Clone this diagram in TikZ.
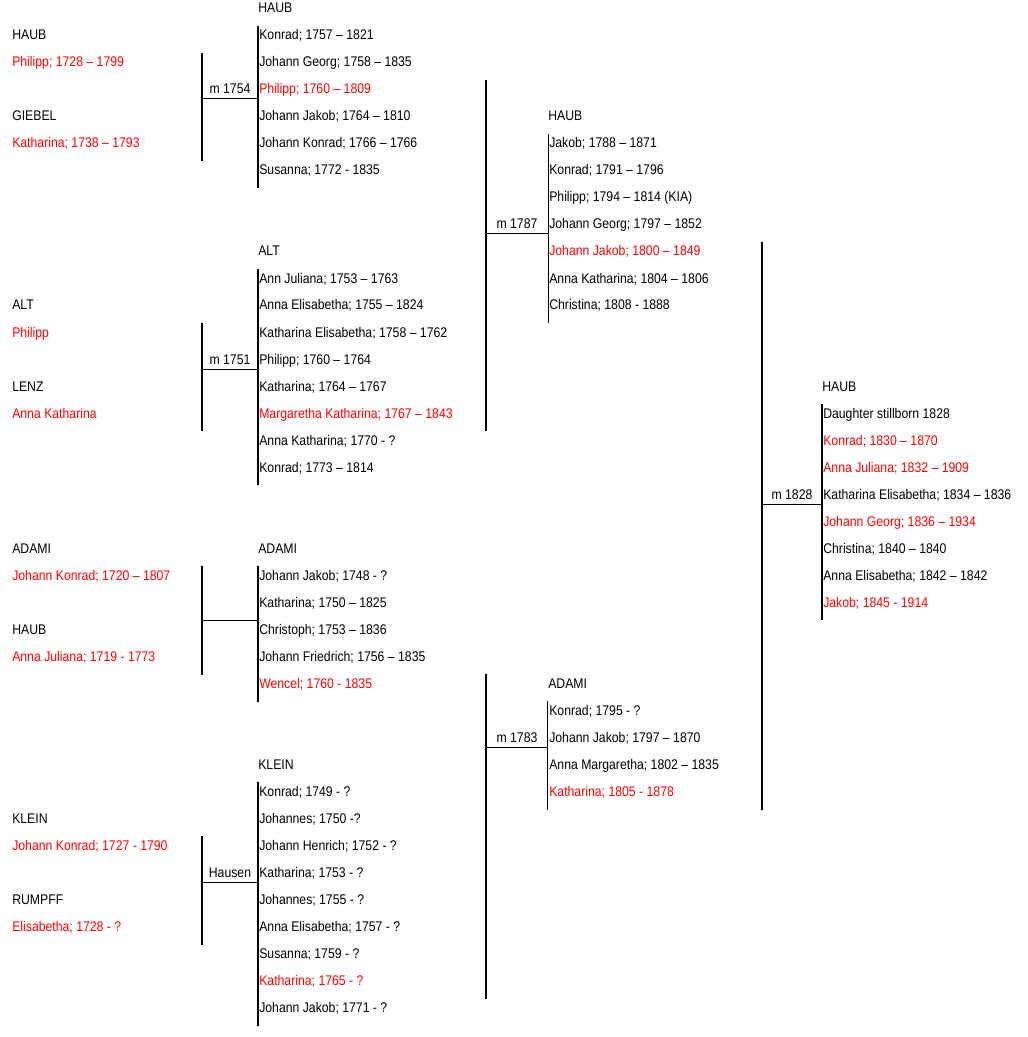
\documentclass[tikz,border=0pt]{standalone}
\usepackage{fontspec}
\setmainfont[FakeStretch=0.875]{Liberation Sans}
\tikzset{
  person/.style={anchor=base west, inner sep=0pt, font=\fontsize{10.5pt}{12pt}\selectfont},
  kin/.style={person, text=red},
  wedding/.style={anchor=base, inner sep=0pt, font=\fontsize{10.5pt}{12pt}\selectfont},
  bar/.style={line width=1.5pt},
  thinbar/.style={line width=0.75pt},
  link/.style={line width=0.75pt}
}
\begin{document}
\begin{tikzpicture}[x=0.75pt, y=-0.75pt]
  \useasboundingbox (0,0) rectangle (1027,1037);
  % grandparents
  \node[person] (g1) at (12,40) {HAUB};
  \node[kin] (g2) at (12,67) {Philipp; 1728 – 1799};
  \node[person] (g3) at (12,121) {GIEBEL};
  \node[kin] (g4) at (12,148) {Katharina; 1738 – 1793};
  \node[person] (g5) at (12,310) {ALT};
  \node[kin] (g6) at (12,337) {Philipp};
  \node[person] (g7) at (12,391) {LENZ};
  \node[kin] (g8) at (12,418) {Anna Katharina};
  \node[person] (g9) at (12,553) {ADAMI};
  \node[kin] (g10) at (12,580) {Johann Konrad; 1720 – 1807};
  \node[person] (g11) at (12,634) {HAUB};
  \node[kin] (g12) at (12,661) {Anna Juliana; 1719 - 1773};
  \node[person] (g13) at (12,823) {KLEIN};
  \node[kin] (g14) at (12,850) {Johann Konrad; 1727 - 1790};
  \node[person] (g15) at (12,904) {RUMPFF};
  \node[kin] (g16) at (12,931) {Elisabetha; 1728 - ?};
  % marriages
  \node[wedding] (w1) at (230,94) {m 1754};
  \node[wedding] (w2) at (230,364) {m 1751};
  \node[wedding] (w4) at (230,877) {Hausen};
  \node[wedding] (w5) at (517,229) {m 1787};
  \node[wedding] (w6) at (517,742) {m 1783};
  \node[wedding] (w7) at (792,499) {m 1828};
  % children HAUB
  \node[person] (a0) at (258,13) {HAUB};
  \node[person] (a1) at (259,40) {Konrad; 1757 – 1821};
  \node[person] (a2) at (259,67) {Johann Georg; 1758 – 1835};
  \node[kin] (a3) at (259,94) {Philipp; 1760 – 1809};
  \node[person] (a4) at (259,121) {Johann Jakob; 1764 – 1810};
  \node[person] (a5) at (259,148) {Johann Konrad; 1766 – 1766};
  \node[person] (a6) at (259,175) {Susanna; 1772 - 1835};
  % children ALT
  \node[person] (b0) at (258,256) {ALT};
  \node[person] (b1) at (259,283) {Ann Juliana; 1753 – 1763};
  \node[person] (b2) at (259,310) {Anna Elisabetha; 1755 – 1824};
  \node[person] (b3) at (259,337) {Katharina Elisabetha; 1758 – 1762};
  \node[person] (b4) at (259,364) {Philipp; 1760 – 1764};
  \node[person] (b5) at (259,391) {Katharina; 1764 – 1767};
  \node[kin] (b6) at (259,418) {Margaretha Katharina; 1767 – 1843};
  \node[person] (b7) at (259,445) {Anna Katharina; 1770 - ?};
  \node[person] (b8) at (259,472) {Konrad; 1773 – 1814};
  % children ADAMI
  \node[person] (c0) at (258,553) {ADAMI};
  \node[person] (c1) at (259,580) {Johann Jakob; 1748 - ?};
  \node[person] (c2) at (259,607) {Katharina; 1750 – 1825};
  \node[person] (c3) at (259,634) {Christoph; 1753 – 1836};
  \node[person] (c4) at (259,661) {Johann Friedrich; 1756 – 1835};
  \node[kin] (c5) at (259,688) {Wencel; 1760 - 1835};
  % children KLEIN
  \node[person] (d0) at (258,769) {KLEIN};
  \node[person] (d1) at (259,796) {Konrad; 1749 - ?};
  \node[person] (d2) at (259,823) {Johannes; 1750 -?};
  \node[person] (d3) at (259,850) {Johann Henrich; 1752 - ?};
  \node[person] (d4) at (259,877) {Katharina; 1753 - ?};
  \node[person] (d5) at (259,904) {Johannes; 1755 - ?};
  \node[person] (d6) at (259,931) {Anna Elisabetha; 1757 - ?};
  \node[person] (d7) at (259,958) {Susanna; 1759 - ?};
  \node[kin] (d8) at (259,985) {Katharina; 1765 - ?};
  \node[person] (d9) at (259,1012) {Johann Jakob; 1771 - ?};
  % grandchildren HAUB
  \node[person] (e0) at (548,121) {HAUB};
  \node[person] (e1) at (549,148) {Jakob; 1788 – 1871};
  \node[person] (e2) at (549,175) {Konrad; 1791 – 1796};
  \node[person] (e3) at (549,202) {Philipp; 1794 – 1814 (KIA)};
  \node[person] (e4) at (549,229) {Johann Georg; 1797 – 1852};
  \node[kin] (e5) at (549,256) {Johann Jakob; 1800 – 1849};
  \node[person] (e6) at (549,283) {Anna Katharina; 1804 – 1806};
  \node[person] (e7) at (549,310) {Christina; 1808 - 1888};
  % grandchildren ADAMI
  \node[person] (f0) at (548,688) {ADAMI};
  \node[person] (f1) at (549,715) {Konrad; 1795 - ?};
  \node[person] (f2) at (549,742) {Johann Jakob; 1797 – 1870};
  \node[person] (f3) at (549,769) {Anna Margaretha; 1802 – 1835};
  \node[kin] (f4) at (549,796) {Katharina; 1805 - 1878};
  % last generation HAUB
  \node[person] (h0) at (822,391) {HAUB};
  \node[person] (h1) at (823,418) {Daughter stillborn 1828};
  \node[kin] (h2) at (823,445) {Konrad; 1830 – 1870};
  \node[kin] (h3) at (823,472) {Anna Juliana; 1832 – 1909};
  \node[person] (h4) at (823,499) {Katharina Elisabetha; 1834 – 1836};
  \node[kin] (h5) at (823,526) {Johann Georg; 1836 – 1934};
  \node[person] (h6) at (823,553) {Christina; 1840 – 1840};
  \node[person] (h7) at (823,580) {Anna Elisabetha; 1842 – 1842};
  \node[kin] (h8) at (823,607) {Jakob; 1845 - 1914};
  % bar ends
  \coordinate (p1t) at (202,53);  \coordinate (p1b) at (202,161);
  \coordinate (p1m) at (202,99);  \coordinate (k1m) at (258,99);
  \coordinate (k1t) at (258,26);  \coordinate (k1b) at (258,188);
  \coordinate (p2t) at (202,323); \coordinate (p2b) at (202,431);
  \coordinate (p2m) at (202,369); \coordinate (k2m) at (258,369);
  \coordinate (k2t) at (258,269); \coordinate (k2b) at (258,485);
  \coordinate (p3t) at (202,566); \coordinate (p3b) at (202,675);
  \coordinate (p3m) at (202,620); \coordinate (k3m) at (258,620);
  \coordinate (k3t) at (258,566); \coordinate (k3b) at (258,702);
  \coordinate (p4t) at (202,836); \coordinate (p4b) at (202,945);
  \coordinate (p4m) at (202,882); \coordinate (k4m) at (258,882);
  \coordinate (k4t) at (258,782); \coordinate (k4b) at (258,1026);
  \coordinate (p5t) at (486,80);  \coordinate (p5b) at (486,431);
  \coordinate (p5m) at (486,234); \coordinate (k5m) at (548,234);
  \coordinate (k5t) at (548,134); \coordinate (k5b) at (548,323);
  \coordinate (p6t) at (486,674); \coordinate (p6b) at (486,999);
  \coordinate (p6m) at (486,747); \coordinate (k6m) at (547,747);
  \coordinate (k6t) at (547,701); \coordinate (k6b) at (547,810);
  \coordinate (p7t) at (762,242); \coordinate (p7b) at (762,810);
  \coordinate (p7m) at (762,504); \coordinate (k7m) at (822,504);
  \coordinate (k7t) at (822,404); \coordinate (k7b) at (822,620);
  \begin{scope}[bar]
    \draw (p1t) -- (p1b);
    \draw (k1t) -- (k1b);
    \draw (p2t) -- (p2b);
    \draw (k2t) -- (k2b);
    \draw (p3t) -- (p3b);
    \draw (k3t) -- (k3b);
    \draw (p4t) -- (p4b);
    \draw (k4t) -- (k4b);
    \draw (p5t) -- (p5b);
    \draw (p6t) -- (p6b);
    \draw (p7t) -- (p7b);
    \draw (k7t) -- (k7b);
  \end{scope}
  \draw[thinbar] (k5t) -- (k5b);
  \draw[thinbar] (k6t) -- (k6b);
  \begin{scope}[link]
    \draw (p1m) -- (k1m);
    \draw (p2m) -- (k2m);
    \draw (p3m) -- (k3m);
    \draw (p4m) -- (k4m);
    \draw (p5m) -- (k5m);
    \draw (p6m) -- (k6m);
    \draw (p7m) -- (k7m);
  \end{scope}
\end{tikzpicture}
\end{document}
